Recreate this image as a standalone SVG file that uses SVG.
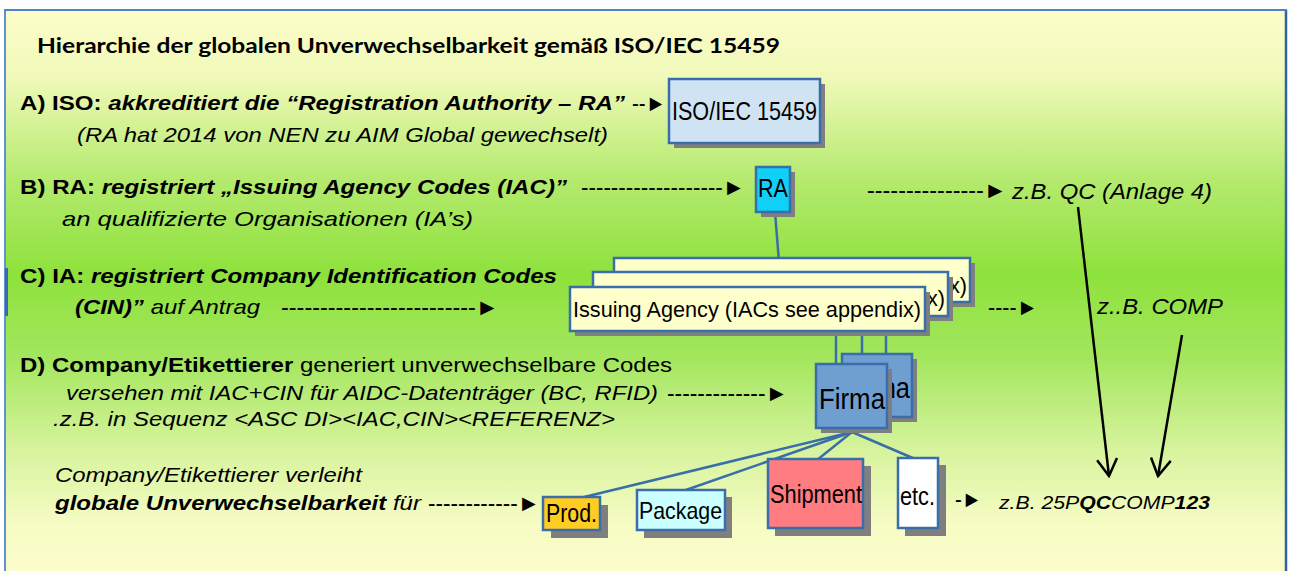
<svg xmlns="http://www.w3.org/2000/svg" width="1290" height="571" viewBox="0 0 1290 571">
  <defs>
    <linearGradient id="bg" x1="0" y1="10" x2="0" y2="571" gradientUnits="userSpaceOnUse">
      <stop offset="0" stop-color="#fdfdca"/>
      <stop offset="0.12" stop-color="#f0f9b9"/>
      <stop offset="0.3" stop-color="#b5ea6f"/>
      <stop offset="0.47" stop-color="#8ee23c"/>
      <stop offset="0.62" stop-color="#a3e65e"/>
      <stop offset="0.78" stop-color="#d6f39c"/>
      <stop offset="0.92" stop-color="#f6fcc4"/>
      <stop offset="1" stop-color="#fbfdca"/>
    </linearGradient>
    <marker id="open" viewBox="-20 -12 22 24" refX="0" refY="0" markerWidth="22" markerHeight="24" markerUnits="userSpaceOnUse" orient="auto">
      <path d="M-17,-10 L0,0 L-17,10" fill="none" stroke="#000" stroke-width="2.5"/>
    </marker>
  </defs>
  <style>
    text { font-family: "Liberation Sans", Arial, sans-serif; fill: #000; }
    .title { font-family: Lato, "Open Sans", sans-serif; font-weight: bold; font-size: 20px; }
    .t { font-size: 21px; }
    .p { font-size: 23px; }
    .b { font-weight: bold; }
    .i { font-style: italic; }
    .bi { font-weight: bold; font-style: italic; }
    .box { stroke: #3a6eaa; stroke-width: 2.5; }
    .shadow { fill: #7f7f7f; }
    .link { stroke: #3a6eaa; stroke-width: 2.5; fill: none; }
    .ptr { stroke: #000; stroke-width: 2.5; fill: none; marker-end: url(#open); }
  </style>

  <!-- panel -->
  <rect x="5" y="10" width="1281" height="575" fill="url(#bg)" stroke="#5b93d3" stroke-width="2"/>
  <line x1="1286" y1="10" x2="1286" y2="571" stroke="#2f63a8" stroke-width="2.5"/>
  <line x1="5" y1="10" x2="1286" y2="10" stroke="#4f84c4" stroke-width="2"/>
  <rect x="5" y="268" width="3" height="48" fill="#3a69b0"/>

  <!-- headings and explanatory text -->
  <g id="labels">
    <text class="title" x="37" y="53" textLength="743" lengthAdjust="spacingAndGlyphs">Hierarchie der globalen Unverwechselbarkeit gemäß ISO/IEC 15459</text>

    <text class="t b" x="20" y="110" textLength="605" lengthAdjust="spacingAndGlyphs">A) ISO: <tspan class="bi">akkreditiert die “Registration Authority – RA”</tspan></text>
    <text class="t i" x="77" y="142" textLength="531" lengthAdjust="spacingAndGlyphs">(RA hat 2014 von NEN zu AIM Global gewechselt)</text>

    <text class="t b" x="20" y="194" textLength="547" lengthAdjust="spacingAndGlyphs">B) RA: <tspan class="bi">registriert „Issuing Agency Codes (IAC)”</tspan></text>
    <text class="t i" x="62" y="226" textLength="411" lengthAdjust="spacingAndGlyphs">an qualifizierte Organisationen (IA’s)</text>

    <text class="t b" x="20" y="283" textLength="537" lengthAdjust="spacingAndGlyphs">C) IA: <tspan class="bi">registriert Company Identification Codes</tspan></text>
    <text class="t i" x="75" y="314" textLength="185" lengthAdjust="spacingAndGlyphs"><tspan class="bi">(CIN)”</tspan> auf Antrag</text>

    <text class="t" x="20" y="372" textLength="652" lengthAdjust="spacingAndGlyphs"><tspan class="b">D) Company/Etikettierer</tspan> generiert unverwechselbare Codes</text>
    <text class="t i" x="66" y="400" textLength="592" lengthAdjust="spacingAndGlyphs">versehen mit IAC+CIN für AIDC-Datenträger (BC, RFID)</text>
    <text class="t i" x="53" y="426" textLength="562" lengthAdjust="spacingAndGlyphs">.z.B. in Sequenz &lt;ASC DI&gt;&lt;IAC,CIN&gt;&lt;REFERENZ&gt;</text>

    <text class="t i" x="55" y="482" textLength="307" lengthAdjust="spacingAndGlyphs">Company/Etikettierer verleiht</text>
    <text class="t i" x="55" y="510" textLength="366" lengthAdjust="spacingAndGlyphs"><tspan class="b">globale Unverwechselbarkeit</tspan> für</text>

    <text class="i" x="1012" y="199" font-size="22" textLength="200" lengthAdjust="spacingAndGlyphs">z.B. QC (Anlage 4)</text>
    <text class="i" x="1097" y="314" font-size="22" textLength="126" lengthAdjust="spacingAndGlyphs">z..B. COMP</text>
    <text class="i" x="999" y="509" font-size="19" textLength="211" lengthAdjust="spacingAndGlyphs">z.B. 25P<tspan class="b">QC</tspan>COMP<tspan class="b">123</tspan></text>
  </g>

  <!-- dashed text pointers -->
  <g id="text-pointers" class="p">
    <text x="632" y="111" textLength="34" lengthAdjust="spacingAndGlyphs">--►</text>
    <text x="581" y="195" textLength="164" lengthAdjust="spacingAndGlyphs">-------------------►</text>
    <text x="867" y="198" textLength="140" lengthAdjust="spacingAndGlyphs">---------------►</text>
    <text x="281" y="315" textLength="218" lengthAdjust="spacingAndGlyphs">-------------------------►</text>
    <text x="988" y="315" textLength="50" lengthAdjust="spacingAndGlyphs">----►</text>
    <text x="667" y="401" textLength="121" lengthAdjust="spacingAndGlyphs">-------------►</text>
    <text x="428" y="511" textLength="112" lengthAdjust="spacingAndGlyphs">------------►</text>
    <text x="955" y="507" textLength="27" lengthAdjust="spacingAndGlyphs">-►</text>
  </g>

  <!-- connectors -->
  <g id="connectors">
    <line class="link" x1="775" y1="212" x2="779" y2="262"/>
    <line class="link" x1="836" y1="320" x2="836" y2="366"/>
    <line class="link" x1="862" y1="305" x2="862" y2="356"/>
    <line class="link" x1="886" y1="290" x2="886" y2="356"/>
    <line class="link" x1="852" y1="432" x2="580" y2="498"/>
    <line class="link" x1="852" y1="432" x2="683" y2="491"/>
    <line class="link" x1="852" y1="432" x2="817" y2="460"/>
    <line class="link" x1="852" y1="432" x2="915" y2="459"/>
    <line class="ptr" x1="1078" y1="207" x2="1109" y2="476"/>
    <line class="ptr" x1="1182" y1="335" x2="1158" y2="476"/>
  </g>

  <!-- nodes -->
  <g id="iso">
    <rect class="shadow" x="674" y="84" width="151" height="64"/>
    <rect class="box" x="669" y="79" width="151" height="64" fill="#cfe3f3"/>
    <text x="672" y="120" font-size="25" textLength="145" lengthAdjust="spacingAndGlyphs">ISO/IEC 15459</text>
  </g>

  <g id="ra">
    <rect class="shadow" x="761" y="172" width="34" height="45"/>
    <rect class="box" x="756" y="167" width="34" height="45" fill="#10d0f6"/>
    <text x="758" y="197" font-size="25" textLength="30" lengthAdjust="spacingAndGlyphs">RA</text>
  </g>

  <g id="ia-3">
    <rect class="shadow" x="619" y="263" width="356" height="44"/>
    <rect class="box" x="614" y="258" width="356" height="44" fill="#ffffcc"/>
    <text x="619" y="293" font-size="22" textLength="348" lengthAdjust="spacingAndGlyphs">Issuing Agency (IACs see appendix)</text>
  </g>

  <g id="ia-2">
    <rect class="shadow" x="598" y="277" width="355" height="44"/>
    <rect class="box" x="593" y="272" width="355" height="44" fill="#ffffcc"/>
    <text x="597" y="306" font-size="22" textLength="348" lengthAdjust="spacingAndGlyphs">Issuing Agency (IACs see appendix)</text>
  </g>

  <g id="ia-1">
    <rect class="shadow" x="575" y="292" width="355" height="44"/>
    <rect class="box" x="570" y="287" width="355" height="44" fill="#ffffcc"/>
    <text x="573" y="317" font-size="22" textLength="348" lengthAdjust="spacingAndGlyphs">Issuing Agency (IACs see appendix)</text>
  </g>

  <g id="firma-2">
    <rect class="shadow" x="847" y="359" width="70" height="63"/>
    <rect class="box" x="842" y="354" width="70" height="63" fill="#6f9fd1"/>
    <text x="845" y="398" font-size="29" textLength="65" lengthAdjust="spacingAndGlyphs">Firma</text>
  </g>

  <g id="firma-1">
    <rect class="shadow" x="821" y="369" width="71" height="64"/>
    <rect class="box" x="816" y="364" width="71" height="64" fill="#6f9fd1"/>
    <text x="819" y="409" font-size="29" textLength="66" lengthAdjust="spacingAndGlyphs">Firma</text>
  </g>

  <g id="prod">
    <rect class="shadow" x="551" y="505" width="57" height="33"/>
    <rect class="box" x="543" y="497" width="57" height="33" fill="#ffcc22"/>
    <text x="546" y="522" font-size="25" textLength="51" lengthAdjust="spacingAndGlyphs">Prod.</text>
  </g>

  <g id="package">
    <rect class="shadow" x="644" y="497" width="88" height="41"/>
    <rect class="box" x="637" y="490" width="88" height="40" fill="#ccffff"/>
    <text x="639" y="519" font-size="24" textLength="83" lengthAdjust="spacingAndGlyphs">Package</text>
  </g>

  <g id="shipment">
    <rect class="shadow" x="775" y="466" width="96" height="70"/>
    <rect class="box" x="768" y="459" width="95" height="69" fill="#ff7c80"/>
    <text x="770" y="503" font-size="25" textLength="92" lengthAdjust="spacingAndGlyphs">Shipment</text>
  </g>

  <g id="etc">
    <rect class="shadow" x="905" y="465" width="41" height="71"/>
    <rect class="box" x="898" y="458" width="40" height="70" fill="#ffffff"/>
    <text x="900" y="505" font-size="25" textLength="35" lengthAdjust="spacingAndGlyphs">etc.</text>
  </g>
</svg>
